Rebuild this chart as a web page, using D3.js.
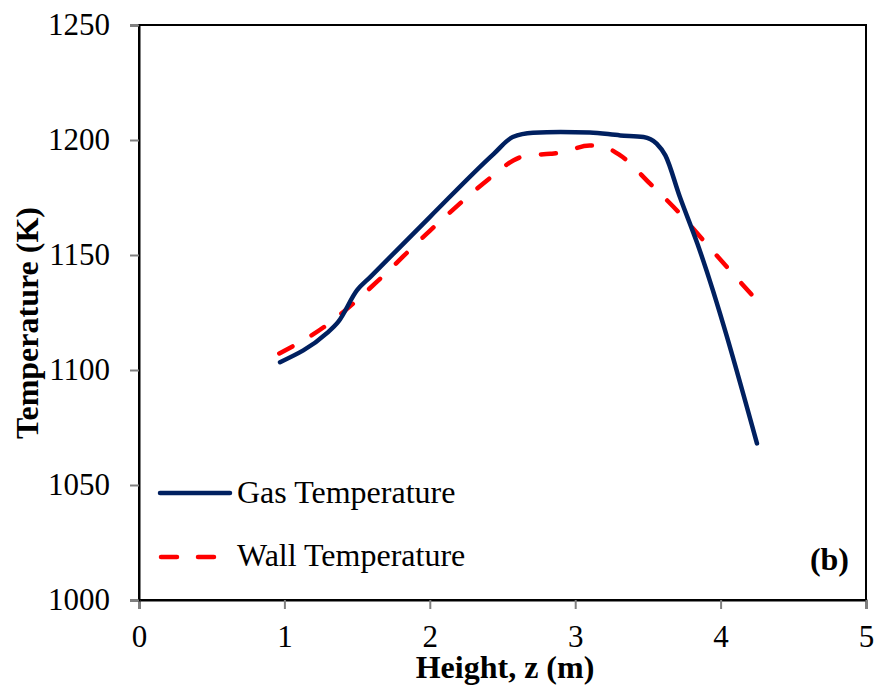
<!DOCTYPE html>
<html><head><meta charset="utf-8">
<script src="https://cdn.jsdelivr.net/npm/d3@7"></script>
<style>body{margin:0;background:#fff}svg{display:block}</style>
</head><body><svg id="c" width="876" height="693"></svg>
<script>
const gasZ = [0.97, 1.29, 1.37, 1.50, 1.59, 2.0, 2.44, 2.57, 2.71, 2.90, 3.10, 3.31, 3.47, 3.56, 3.62, 3.72, 3.84, 4.25];
const gasT = [1103.4, 1115.9, 1120.9, 1134.7, 1140.4, 1166.5, 1194.0, 1201.3, 1203.2, 1203.5, 1203.3, 1202.0, 1201.3, 1198.4, 1193.3, 1175.2, 1155.0, 1068.1];
const wallZ = [0.965, 1.29, 1.405, 1.635, 2.0, 2.437, 2.574, 2.666, 2.83, 2.90, 3.10, 3.16, 3.31, 3.515, 3.72, 3.90, 4.248];
const wallT = [1107.2, 1119.5, 1125.2, 1138.3, 1160.5, 1184.6, 1191.1, 1193.3, 1194.0, 1194.5, 1197.6, 1197.6, 1193.3, 1181.0, 1168.0, 1155.0, 1130.3];
const xTicks = [0, 1, 2, 3, 4, 5];
const yTicks = [1000, 1050, 1100, 1150, 1200, 1250];
const seriesNames = ["Gas Temperature", "Wall Temperature"];

const FONT = '"Liberation Serif"';
const svg = d3.select("#c");
const L = 139, R = 866, T = 25, B = 600;
const x = d3.scaleLinear().domain([0, 5]).range([L, R]);
const y = d3.scaleLinear().domain([1000, 1250]).range([B, T]);

svg.append("rect").attr("x", L).attr("y", T).attr("width", R - L).attr("height", B - T)
  .attr("fill", "none").attr("stroke", "#000").attr("stroke-width", 2);

const xAxis = svg.append("g").attr("transform", `translate(0,${B})`)
  .call(d3.axisBottom(x).tickValues(xTicks).tickFormat(d3.format("d")).tickSize(9).tickPadding(16));
const yAxis = svg.append("g").attr("transform", `translate(${L},0)`)
  .call(d3.axisLeft(y).tickValues(yTicks).tickFormat(d3.format("d")).tickSize(9).tickPadding(20));
[xAxis, yAxis].forEach(g => {
  g.attr("font-family", null).attr("font-size", null);
  g.select(".domain").attr("stroke", "#000").attr("stroke-width", 2);
  g.selectAll(".tick line").attr("stroke", "#808080").attr("stroke-width", 2);
  g.selectAll(".tick text").style("font-family", FONT).style("font-size", "31px").attr("fill", "#000");
});

const line = d3.line().curve(d3.curveMonotoneX);
const gasPts = gasZ.map((z, i) => [x(z), y(gasT[i])]);
const wallPts = wallZ.map((z, i) => [x(z), y(wallT[i])]);

svg.append("path").attr("d", line(wallPts)).attr("fill", "none").attr("stroke", "#ff0000")
  .attr("stroke-width", 4.5).attr("stroke-dasharray", "15,22").attr("stroke-linecap", "round");
svg.append("path").attr("d", line(gasPts)).attr("fill", "none").attr("stroke", "#002060")
  .attr("stroke-width", 4.5).attr("stroke-linecap", "round");

const lg = svg.append("g");
lg.append("line").attr("x1", 160).attr("x2", 230).attr("y1", 493).attr("y2", 493)
  .attr("stroke", "#002060").attr("stroke-width", 4.5).attr("stroke-linecap", "round");
lg.append("line").attr("x1", 161).attr("x2", 220).attr("y1", 557).attr("y2", 557)
  .attr("stroke", "#ff0000").attr("stroke-width", 4.5).attr("stroke-linecap", "round").attr("stroke-dasharray", "16,21");
lg.append("text").attr("x", 237).attr("y", 503).style("font-family", FONT).style("font-size", "32px").text(seriesNames[0]);
lg.append("text").attr("x", 237).attr("y", 566).style("font-family", FONT).style("font-size", "32px").text(seriesNames[1]);

svg.append("text").attr("x", 849).attr("y", 570).attr("text-anchor", "end")
  .style("font-family", FONT).style("font-size", "32px").style("font-weight", "bold").text("(b)");

svg.append("text").attr("x", 505).attr("y", 678).attr("text-anchor", "middle")
  .style("font-family", FONT).style("font-size", "32px").style("font-weight", "bold").text("Height, z (m)");
svg.append("text").attr("transform", "translate(38,323) rotate(-90)").attr("text-anchor", "middle")
  .style("font-family", FONT).style("font-size", "32px").style("font-weight", "bold").text("Temperature (K)");
</script></body></html>
